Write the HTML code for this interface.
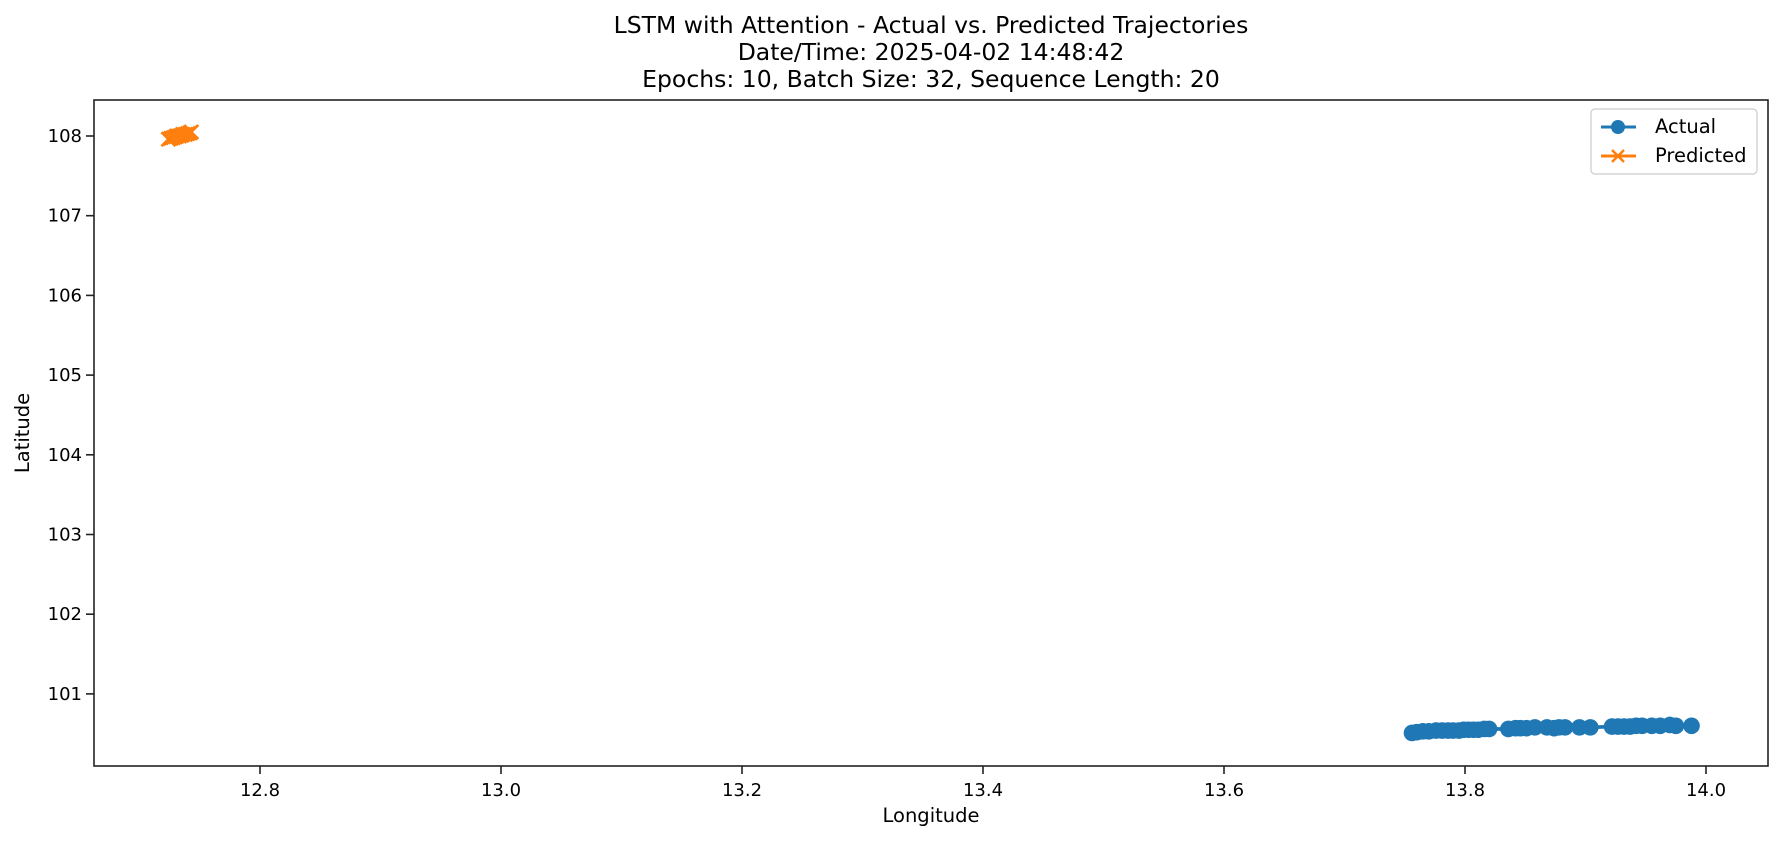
<!DOCTYPE html>
<html><head><meta charset="utf-8"><style>
html,body{margin:0;padding:0;background:#fff;}
svg text{font-family:"DejaVu Sans","Liberation Sans",sans-serif;fill:#000;}
</style></head><body>
<svg id="chart" width="1782" height="840" xmlns="http://www.w3.org/2000/svg">
<g font-size="23.5" text-anchor="middle">
<text x="931" y="33">LSTM with Attention - Actual vs. Predicted Trajectories</text>
<text x="931" y="60">Date/Time: 2025-04-02 14:48:42</text>
<text x="931" y="87">Epochs: 10, Batch Size: 32, Sequence Length: 20</text>
</g>
<g id="marks"></g>
<rect x="94" y="100" width="1674" height="666" fill="none" stroke="#222" stroke-width="1.6"/>
<g id="xticks"></g>
<g id="yticks"></g>
<text x="931" y="822" font-size="19.5" text-anchor="middle">Longitude</text>
<text transform="translate(29,433) rotate(-90)" font-size="19.5" text-anchor="middle">Latitude</text>
<g>
<rect x="1591" y="109" width="166" height="65" rx="4" fill="#fff" stroke="#ccc" stroke-width="1.2"/>
<g>
<line x1="1601" y1="127" x2="1636" y2="127" stroke="#1f77b4" stroke-width="3"/>
<circle cx="1618" cy="127" r="7" fill="#1f77b4"/>
<text x="1655" y="133" font-size="19.5">Actual</text>
</g>
<g>
<line x1="1601" y1="156" x2="1636" y2="156" stroke="#ff7f0e" stroke-width="3"/>
<path d="M1612 150 L1624 162 M1612 162 L1624 150" stroke="#ff7f0e" stroke-width="2.5"/>
<text x="1655" y="162" font-size="19.5">Predicted</text>
</g>
</g>
</svg>
<script>
const xTicks = [12.8, 13.0, 13.2, 13.4, 13.6, 13.8, 14.0];
const yTicks = [101, 102, 103, 104, 105, 106, 107, 108];
const actualLon = [13.756,13.760,13.765,13.770,13.776,13.781,13.786,13.790,13.795,13.799,13.803,13.807,13.811,13.816,13.820,13.836,13.842,13.846,13.851,13.858,13.868,13.874,13.878,13.883,13.895,13.904,13.922,13.927,13.932,13.937,13.942,13.947,13.955,13.962,13.970,13.975,13.988];
const actualLat = [100.51,100.52,100.53,100.53,100.54,100.54,100.54,100.54,100.54,100.55,100.55,100.55,100.55,100.56,100.56,100.56,100.57,100.57,100.57,100.58,100.58,100.57,100.58,100.58,100.58,100.58,100.59,100.59,100.59,100.59,100.60,100.60,100.60,100.60,100.61,100.60,100.60];
const predLon = [12.724,12.726,12.728,12.730,12.731,12.733,12.735,12.736,12.738,12.740,12.742,12.743];
const predLat = [107.96,107.97,107.98,107.99,108.00,108.00,108.01,108.02,108.02,108.03,108.04,108.05];

const X0=94, X1=1768, Y0=100, Y1=766;
function xs(v){ return 260 + (v-12.8)*1205; }
function ys(v){ return 136 + (108-v)*79.7; }
const NS='http://www.w3.org/2000/svg';
const marks=document.getElementById('marks');
function mk(tag, attrs, parent){ const e=document.createElementNS(NS,tag); for(const k in attrs) e.setAttribute(k,attrs[k]); parent.appendChild(e); return e; }

let d='';
actualLon.forEach((v,i)=>{ d+=(i?'L':'M')+xs(v)+' '+ys(actualLat[i]); });
const al=mk('path',{d:d,fill:'none',stroke:'#1f77b4','stroke-width':3.7},marks);


actualLon.forEach((v,i)=>{
  const c=mk('circle',{cx:xs(v),cy:ys(actualLat[i]),r:8.3,fill:'#1f77b4'},marks);
  
  
});
d='';
predLon.forEach((v,i)=>{ d+=(i?'L':'M')+xs(v)+' '+ys(predLat[i]); });
const pl=mk('path',{d:d,fill:'none',stroke:'#ff7f0e','stroke-width':3.7},marks);


predLon.forEach((v,i)=>{
  const x=xs(v), y=ys(predLat[i]), s=7;
  const p=mk('path',{d:`M${x-s} ${y-s}L${x+s} ${y+s}M${x-s} ${y+s}L${x+s} ${y-s}`,stroke:'#ff7f0e','stroke-width':2.5},marks);
  
  
});

const xg=document.getElementById('xticks');
xTicks.forEach(t=>{
  const x=xs(t);
  const l=mk('line',{x1:x,y1:Y1,x2:x,y2:Y1+8,stroke:'#222','stroke-width':1.6},xg);
  
  
  const tx=mk('text',{x:x,y:Y1+30,'font-size':18,'text-anchor':'middle'},xg);
  tx.textContent=t.toFixed(1);
  
  
});
const yg=document.getElementById('yticks');
yTicks.forEach(t=>{
  const y=ys(t);
  const l=mk('line',{x1:X0-8,y1:y,x2:X0,y2:y,stroke:'#222','stroke-width':1.6},yg);
  
  
  const tx=mk('text',{x:X0-12,y:y+6,'font-size':18,'text-anchor':'end'},yg);
  tx.textContent=String(t);
  
  
});
</script>
</body></html>
